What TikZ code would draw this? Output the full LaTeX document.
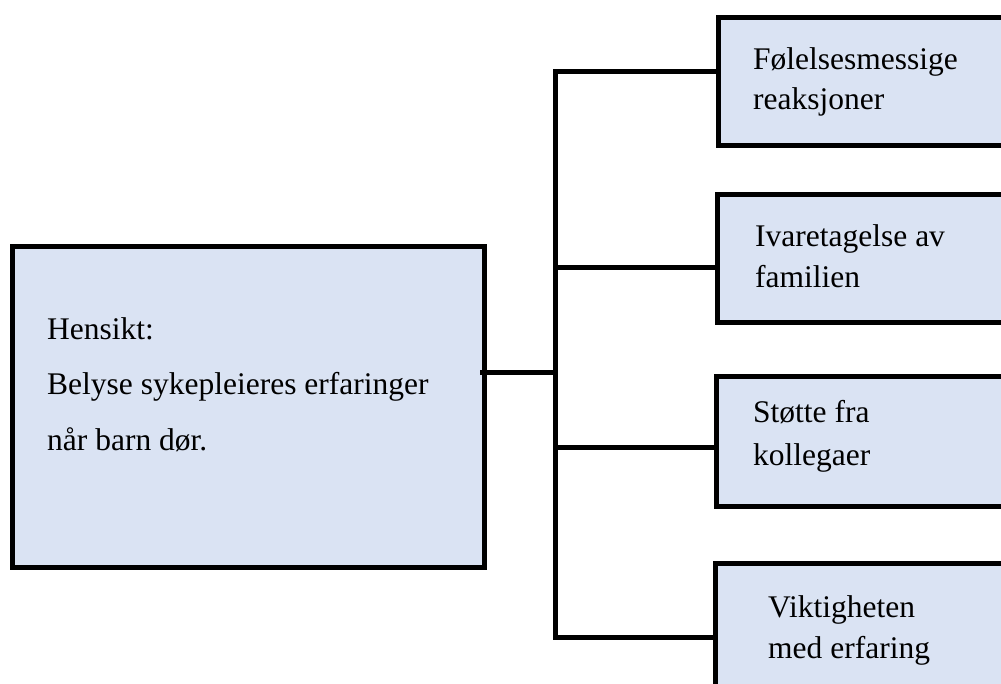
\documentclass[tikz,border=0pt]{standalone}
\usepackage{fontspec}
\setmainfont{Liberation Serif}
\definecolor{boxfill}{HTML}{DAE3F3}
\begin{document}
\begin{tikzpicture}[x=1pt,y=-1pt,
  boxstyle/.style={draw=black,line width=5pt,fill=boxfill,rectangle,inner sep=0pt,anchor=north west,line join=miter},
  conn/.style={draw=black,line width=5pt,line cap=rect},
  lbl/.style={anchor=base west,inner sep=0pt,font=\fontsize{31.5}{40}\selectfont}]
\useasboundingbox (0,0) rectangle (1001,684);
\clip (0,0) rectangle (1001,684);
% boxes
\node[boxstyle,minimum width=472pt,minimum height=320.5pt] (main) at (9.5,244.5) {};
\node[boxstyle,minimum width=310pt,minimum height=128pt] (b1) at (716,15.5) {};
\node[boxstyle,minimum width=310pt,minimum height=128pt] (b2) at (714.5,192.5) {};
\node[boxstyle,minimum width=310pt,minimum height=129pt] (b3) at (713.5,374.5) {};
\node[boxstyle,minimum width=310pt,minimum height=200pt] (b4) at (712.5,560.5) {};
% labels
\node[lbl] (t1) at (47,340) {Hensikt:};
\node[lbl] (t2) at (47,395) {Belyse sykepleieres erfaringer};
\node[lbl] (t3) at (47,450) {når barn dør.};
\node[lbl] (a1) at (753,70) {Følelsesmessige};
\node[lbl] (a2) at (753,110) {reaksjoner};
\node[lbl] (c1) at (755,247) {Ivaretagelse av};
\node[lbl] (c2) at (755,288) {familien};
\node[lbl] (d1) at (753,422) {Støtte fra};
\node[lbl] (d2) at (753,465) {kollegaer};
\node[lbl] (e1) at (768,617) {Viktigheten};
\node[lbl] (e2) at (768,658) {med erfaring};
% connectors
\coordinate (mainout) at (482,373);
\coordinate (busmid) at (555,373);
\coordinate (bustop) at (555,72);
\coordinate (busbot) at (555,637);
\coordinate (j2) at (555,268);
\coordinate (j3) at (555,447);
\draw[conn] (mainout) -- (busmid);
\draw[conn] (bustop) -- (busbot);
\draw[conn] (bustop) -- (bustop -| b1.west);
\draw[conn] (j2) -- (j2 -| b2.west);
\draw[conn] (j3) -- (j3 -| b3.west);
\draw[conn] (busbot) -- (busbot -| b4.west);
\end{tikzpicture}
\end{document}
